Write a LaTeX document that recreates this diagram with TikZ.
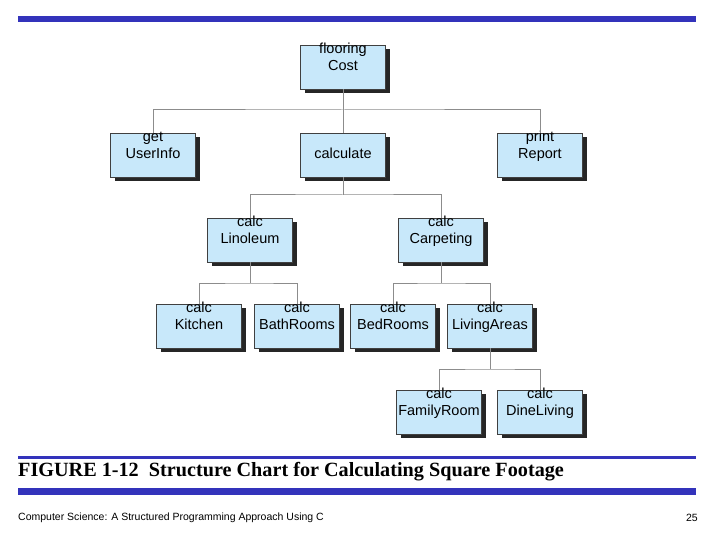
\documentclass[tikz,border=0pt]{standalone}
\usepackage{fontspec}
\setmainfont{Liberation Sans}
\newfontfamily\serifcap{Liberation Serif}
\begin{document}
\begin{tikzpicture}[x=1pt,y=-1pt,
  box/.style={draw=black!75,line width=0.8pt,fill={rgb,255:red,200;green,232;blue,250},minimum width=85pt,minimum height=44pt,align=center,font=\fontsize{14.5}{17}\selectfont,inner sep=1pt,text height=11pt,text depth=3.5pt},
  shd/.style={fill=black!85},
  ln/.style={draw=black!45,line width=1pt},
  bar/.style={fill={rgb,255:red,51;green,51;blue,187}}]
\useasboundingbox (0,0) rectangle (720,540);
\fill[bar] (18,16) rectangle (696,22);
\fill[bar] (18,456) rectangle (696,459);
\fill[bar] (18,488) rectangle (696,495);
\foreach \n/\x/\y/\t in {a/343/67/{flooring\\Cost},b/153/155/{get\\UserInfo},c/343/155/{calculate},d/540/155/{print\\Report},e/250/240/{calc\\Linoleum},f/441/240/{calc\\Carpeting},g/199/326/{calc\\Kitchen},h/297/326/{calc\\BathRooms},i/393/326/{calc\\BedRooms},j/490/326/{calc\\LivingAreas},k/439/412/{calc\\FamilyRoom},l/540/412/{calc\\DineLiving}}{
  \fill[shd] (\x-38.5,\y-18) rectangle (\x+46.5,\y+26);
  \node[box] (\n) at (\x,\y) {\t};
}
\coordinate (r1) at (343,110); \coordinate (r2) at (343,195);
\coordinate (r3) at (250,283); \coordinate (r4) at (441,283); \coordinate (r5) at (490,369);
\draw[ln] (a.south) -- (r1);
\draw[ln] (b.north) |- (r1) -| (d.north);
\draw[ln] (r1) -- (c.north);
\draw[ln] (c.south) -- (r2);
\draw[ln] (e.north) |- (r2) -| (f.north);
\draw[ln] (e.south) -- (r3);
\draw[ln] (g.north) |- (r3) -| (h.north);
\draw[ln] (f.south) -- (r4);
\draw[ln] (i.north) |- (r4) -| (j.north);
\draw[ln] (j.south) -- (r5);
\draw[ln] (k.north) |- (r5) -| (l.north);
\node[anchor=west,inner sep=0,font=\serifcap\bfseries\fontsize{20.2}{22}\selectfont] (cap) at (18,472) {FIGURE 1-12\ \ Structure Chart for Calculating Square Footage};
\node[anchor=west,inner sep=0,font=\fontsize{10.5}{12}\selectfont] (ft) at (18,518) {Computer Science: A Structured Programming Approach Using C};
\node[anchor=east,inner sep=0,font=\fontsize{10.5}{12}\selectfont] (pg) at (698,518) {25};
\end{tikzpicture}
\end{document}
